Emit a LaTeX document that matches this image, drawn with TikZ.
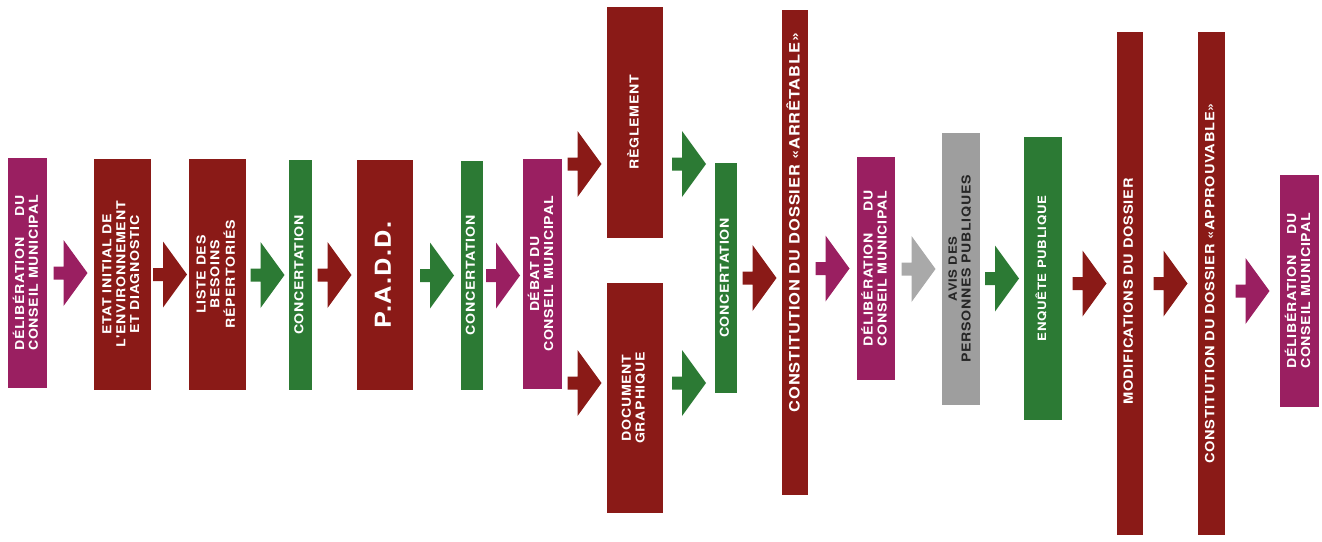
\documentclass[tikz,border=0pt]{standalone}
\usepackage{fontspec}
\newfontfamily\stagefont{TeX Gyre Heros}[FakeStretch=1.15,LetterSpace=6]
\usetikzlibrary{calc}
\definecolor{mMagenta}{HTML}{9A1F61}
\definecolor{mRed}{HTML}{8A1A17}
\definecolor{mGreen}{HTML}{2C7A34}
\definecolor{mGrey}{HTML}{9E9E9E}
\definecolor{mGreyArrow}{HTML}{A9A9A9}
\definecolor{mInk}{HTML}{262626}
\newcommand{\vlab}[1]{\rotatebox{90}{\begin{tabular}{@{}c@{}}#1\end{tabular}}}

\begin{document}
\begin{tikzpicture}[x=1pt, y=-1pt,
  stage/.style={inner sep=0pt, outer sep=0pt, text=white,
                font=\stagefont\bfseries\fontsize{12.3}{13.8}\selectfont},
]
\fill[white] (0,0) rectangle (1322,541);
\useasboundingbox (0,0) rectangle (1322,541);
% --- stages ---
\node[stage, fill=mMagenta, minimum width=39pt, minimum height=230pt] (delib1) at (27.5,273)
  {\vlab{DÉLIBÉRATION\hfill DU\\CONSEIL MUNICIPAL}};
\node[stage, fill=mRed, minimum width=57pt, minimum height=231pt] (etat) at (122.5,274.5)
  {\vlab{ETAT INITIAL DE\\L'ENVIRONNEMENT\\ET DIAGNOSTIC}};
\node[stage, fill=mRed, minimum width=57pt, minimum height=231pt] (liste) at (217.5,274.5)
  {\vlab{LISTE DES\\BESOINS\\RÉPERTORIÉS}};
\node[stage, fill=mGreen, minimum width=23pt, minimum height=230pt] (conc1) at (300.5,275)
  {\vlab{CONCERTATION}};
\node[stage, fill=mRed, minimum width=56pt, minimum height=230pt] (padd) at (385,275)
  {\vlab{\fontsize{22}{23}\selectfont P.A.D.D.}};
\node[stage, fill=mGreen, minimum width=22pt, minimum height=229pt] (conc2) at (472,275.5)
  {\vlab{CONCERTATION}};
\node[stage, fill=mMagenta, minimum width=39pt, minimum height=230pt] (debat) at (542.5,274)
  {\vlab{DÉBAT DU\\CONSEIL MUNICIPAL}};
\node[stage, fill=mRed, minimum width=56pt, minimum height=231pt] (regl) at (635,122.5)
  {\vlab{RÈGLEMENT}};
\node[stage, fill=mRed, minimum width=56pt, minimum height=230pt] (docgr) at (635,398)
  {\vlab{DOCUMENT\\GRAPHIQUE}};
\node[stage, fill=mGreen, minimum width=22pt, minimum height=230pt] (conc3) at (726,278)
  {\vlab{CONCERTATION}};
\node[stage, fill=mRed, minimum width=26pt, minimum height=485pt] (arret) at (795,252.5)
  {\vlab{\fontsize{14.3}{15}\selectfont\hspace*{60pt}CONSTITUTION DU DOSSIER «ARRÊTABLE»}};
\node[stage, fill=mMagenta, minimum width=38pt, minimum height=223pt] (delib2) at (876,268.5)
  {\vlab{DÉLIBÉRATION\hfill DU\\CONSEIL MUNICIPAL}};
\node[stage, fill=mGrey, text=mInk, minimum width=38pt, minimum height=272pt] (avis) at (961,269)
  {\vlab{\fontsize{11.4}{13}\selectfont AVIS DES\\PERSONNES PUBLIQUES}};
\node[stage, fill=mGreen, minimum width=38pt, minimum height=283pt] (enquete) at (1043,278.5)
  {\vlab{\fontsize{11.5}{13}\selectfont\hspace*{20pt}ENQUÊTE PUBLIQUE}};
\node[stage, fill=mRed, minimum width=26pt, minimum height=503pt] (modif) at (1130,283.5)
  {\vlab{\fontsize{12.7}{14}\selectfont MODIFICATIONS DU DOSSIER\hspace*{16pt}}};
\node[stage, fill=mRed, minimum width=27pt, minimum height=503pt] (approuv) at (1211.5,283.5)
  {\vlab{\fontsize{12.7}{14}\selectfont CONSTITUTION DU DOSSIER «APPROUVABLE»}};
\node[stage, fill=mMagenta, minimum width=39pt, minimum height=232pt] (delib3) at (1299.5,291)
  {\vlab{DÉLIBÉRATION\hfill DU\\CONSEIL MUNICIPAL}};
% --- block arrows, centred in the gap ---
\coordinate (up) at (0,164);
\coordinate (dn) at (0,383);
\foreach \a/\b/\r/\col in {delib1/etat/delib1/mMagenta, etat/liste/etat/mRed,
    liste/conc1/conc1/mGreen, conc1/padd/padd/mRed, padd/conc2/conc2/mGreen,
    conc2/debat/conc2/mMagenta, debat/regl/up/mRed, debat/docgr/dn/mRed,
    regl/conc3/up/mGreen, docgr/conc3/dn/mGreen, conc3/arret/conc3/mRed,
    arret/delib2/delib2/mMagenta, delib2/avis/avis/mGreyArrow, avis/enquete/enquete/mGreen,
    enquete/modif/modif/mRed, modif/approuv/approuv/mRed, approuv/delib3/delib3/mMagenta}
  \fill[\col] let \p1=(\a.east), \p2=(\b.west), \p3=(\r), \n1={(\x2-\x1-34pt)/2} in
    (\x1+\n1,\y3+6.5pt) -- ++(10pt,0) -- ++(0,26.5pt) -- (\x2-\n1,\y3)
    -- (\x1+\n1+10pt,\y3-33pt) -- ++(0,26.5pt) -- (\x1+\n1,\y3-6.5pt) -- cycle;
\end{tikzpicture}
\end{document}
